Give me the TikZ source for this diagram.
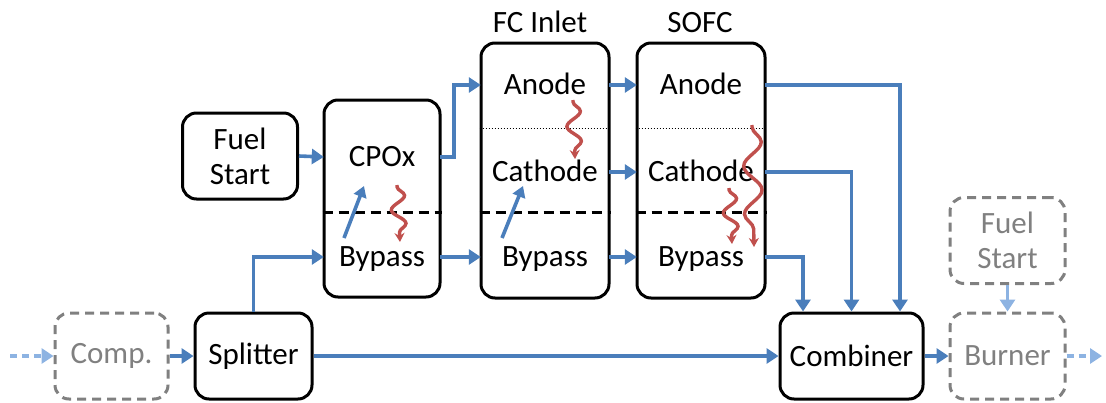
\documentclass[tikz,border=0pt]{standalone}
\usepackage{fontspec}
\setmainfont{Carlito}
\usetikzlibrary{arrows.meta,decorations.pathmorphing,calc}

\definecolor{flowblue}{RGB}{74,126,187}
\definecolor{lightblue}{RGB}{141,179,226}
\definecolor{boxgray}{RGB}{128,128,128}
\definecolor{heatred}{RGB}{192,80,77}

\tikzset{
  unit/.style={draw=black, line width=3pt, rounded corners=14pt, inner sep=0pt},
  ghost/.style={draw=boxgray, line width=3pt, rounded corners=14pt, inner sep=0pt,
    dash pattern=on 9pt off 6pt, text=boxgray, align=center},
  lbl/.style={inner sep=0pt, text height=19pt, text depth=0pt},
  flow/.style={draw=flowblue, line width=3.6pt, -{Triangle[length=12pt,width=15pt]}},
  ghostflow/.style={draw=lightblue, line width=3.6pt, dash pattern=on 7pt off 5pt,
    -{Triangle[length=12pt,width=15pt]}},
  heat/.style={draw=heatred, line width=3.4pt, -{Stealth[length=9pt,width=10pt]},
    decorate, decoration={snake, pre length=2pt, post length=6pt}},
  split/.style={line width=3pt, dash pattern=on 10pt off 6pt},
  layer/.style={line width=1pt, dotted},
}

\begin{document}
\begin{tikzpicture}[x=1pt, y=-1pt, font=\fontsize{31}{35}\selectfont]
\useasboundingbox (0,0) rectangle (1106,402);

% ---- unit boxes ----
\node[unit, minimum width=115pt, minimum height=86pt, align=center] (fuel) at (240,156) {Fuel\\Start};
\node[ghost, minimum width=113pt, minimum height=86pt] (comp) at (111.5,356) {Comp.};
\node[unit, minimum width=117pt, minimum height=86pt] (splitter) at (253.5,356) {Splitter};
\node[unit, minimum width=143pt, minimum height=86pt] (comb) at (851.5,356) {Combiner};
\node[ghost, minimum width=115pt, minimum height=86pt] (fuel2) at (1007.5,240.5) {Fuel\\Start};
\node[ghost, minimum width=115pt, minimum height=86pt] (burner) at (1007.5,356) {Burner};

\node[unit, minimum width=116pt, minimum height=197pt] (cpox) at (382,198.5) {};
\node[unit, minimum width=128pt, minimum height=255pt] (fc) at (545,170.5) {};
\node[unit, minimum width=128pt, minimum height=255pt] (sofc) at (701,170.5) {};

% ---- titles ----
\node[lbl] (fctitle) at (540,23) {FC Inlet};
\node[lbl] (sofctitle) at (700,23) {SOFC};

% ---- compartment separators ----
\draw[split] (cpox.west |- 0,212) -- (cpox.east |- 0,212);
\draw[split] (fc.west |- 0,212) -- (fc.east |- 0,212);
\draw[split] (sofc.west |- 0,212) -- (sofc.east |- 0,212);
\draw[layer] (fc.west |- 0,128) -- (fc.east |- 0,128);
\draw[layer] (sofc.west |- 0,128) -- (sofc.east |- 0,128);

% ---- compartment labels ----
\node[lbl, minimum width=116pt] (cpoxT) at (382,157) {CPOx};
\node[lbl, minimum width=116pt] (cpoxB) at (382,257) {Bypass};
\node[lbl, minimum width=128pt] (fcA) at (545,85) {Anode};
\node[lbl, minimum width=128pt] (fcC) at (545,172) {Cathode};
\node[lbl, minimum width=128pt] (fcB) at (545,257) {Bypass};
\node[lbl, minimum width=128pt] (sofcA) at (701,85) {Anode};
\node[lbl, minimum width=128pt] (sofcC) at (701,172) {Cathode};
\node[lbl, minimum width=128pt] (sofcB) at (701,257) {Bypass};

% ---- gas flows ----
\coordinate (feed) at (10,356);
\coordinate (exhaust) at (1102,356);
\draw[ghostflow] (feed) -- (comp.west);
\draw[flow] (comp.east) -- (splitter.west);
\draw[flow] (splitter.east) -- (comb.west);
\draw[flow] (splitter.north) |- (cpoxB.west);
\draw[flow] (fuel.east) -- (cpoxT.west);
\draw[flow] (cpoxT.east) -- ++(14,0) |- (fcA.west);
\draw[flow] (cpoxB.east) -- (fcB.west);
\draw[flow] (fcA.east) -- (sofcA.west);
\draw[flow] (fcC.east) -- (sofcC.west);
\draw[flow] (fcB.east) -- (sofcB.west);
\draw[flow] (sofcB.east) -| ([xshift=-48.5pt]comb.north);
\draw[flow] (sofcC.east) -| (comb.north);
\draw[flow] (sofcA.east) -| ([xshift=48.5pt]comb.north);
\draw[flow] (comb.east) -- (burner.west);
\draw[draw=lightblue, line width=3.6pt, -{Triangle[length=12pt,width=15pt]}] (fuel2.south) -- (burner.north);
\draw[ghostflow] (burner.east) -- (exhaust);

% ---- mixing from bypass into reactor ----
\coordinate (mixA0) at (344,238);
\coordinate (mixA1) at (364,186);
\coordinate (mixB0) at (502,238);
\coordinate (mixB1) at (523,186);
\draw[flow, -{Triangle[length=11pt,width=13pt]}] (mixA0) -- (mixA1);
\draw[flow, -{Triangle[length=11pt,width=13pt]}] (mixB0) -- (mixB1);

% ---- heat transfer ----
\coordinate (hA0) at (397,185);
\coordinate (hA1) at (400,242);
\coordinate (hB0) at (573,100);
\coordinate (hB1) at (575,159);
\coordinate (hC0) at (752,125);
\coordinate (hC1) at (754,247);
\coordinate (hD0) at (729,188);
\coordinate (hD1) at (732,244);
\draw[heat, decoration={segment length=28pt, amplitude=7pt}] (hA0) -- (hA1);
\draw[heat, decoration={segment length=30pt, amplitude=7pt}] (hB0) -- (hB1);
\draw[heat, decoration={segment length=48pt, amplitude=9pt}] (hC0) -- (hC1);
\draw[heat, decoration={segment length=28pt, amplitude=7pt}] (hD0) -- (hD1);
\end{tikzpicture}
\end{document}
